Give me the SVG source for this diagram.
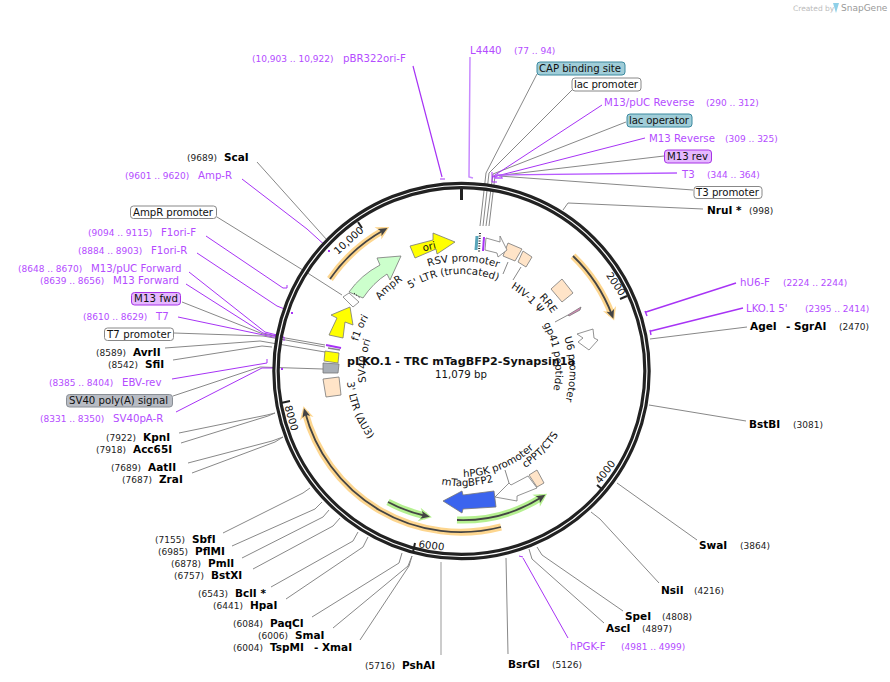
<svg xmlns="http://www.w3.org/2000/svg" width="890" height="682" viewBox="0 0 890 682">
<style>
text{font-family:"DejaVu Sans",Verdana,sans-serif;font-size:10.2px;fill:#111}
.c{font-size:9px;fill:#222}
.pc{font-size:9px;fill:#b44cff}
.p{font-size:10.2px;fill:#b44cff}
.b{font-size:10.5px;font-weight:bold;fill:#000}
.m{text-anchor:middle}
.l{fill:none;stroke:#888;stroke-width:1}
.pl{fill:none;stroke:#a733f5;stroke-width:1}
.g{fill:#fff;stroke:#777;stroke-width:.8}
.f{stroke:#777;stroke-width:.8}
.tan{fill:#ffe4c8;stroke:#777;stroke-width:.8}
.bw{fill:#fff;stroke:#888;stroke-width:1}
.bt{fill:#a0cdd8;stroke:#3c8aa0;stroke-width:1}
.bp{fill:#e5b8ff;stroke:#a733e6;stroke-width:1}
.bg{fill:#b8bcc4;stroke:#8a8f96;stroke-width:1}
.og{fill:none;stroke:#fdd68f;stroke-width:7}
.gg{fill:none;stroke:#b5f090;stroke-width:7}
.core{fill:none;stroke:#444;stroke-width:1.800}
</style>
<defs>
<marker id="ho" markerUnits="userSpaceOnUse" markerWidth="18" markerHeight="18" refX="9" refY="9" orient="auto"><path d="M2,2 L15,9 L2,16 L6,9 Z" fill="#fdd68f"/></marker>
<marker id="hg" markerUnits="userSpaceOnUse" markerWidth="18" markerHeight="18" refX="9" refY="9" orient="auto"><path d="M2,2 L15,9 L2,16 L6,9 Z" fill="#b5f090"/></marker>
<marker id="hc" markerUnits="userSpaceOnUse" markerWidth="14" markerHeight="14" refX="7" refY="7" orient="auto"><path d="M2,3 L11,7 L2,11 L4,7 Z" fill="#444"/></marker>
<path id="aRSV" d="M367.6,314.6 A109.5,109.5 0 0 1 557.3,317.9"/>
<path id="aLTR5" d="M373.6,330 A97,97 0 0 1 540.9,315.3"/>
<path id="aAmpR" d="M355.5,391.6 A108,108 0 0 1 496.7,268.9"/>
<path id="aF1" d="M375.6,435.7 A107.5,107.5 0 0 1 448.4,264.3"/>
<path id="aSV" d="M405.1,448.7 A96,96 0 0 1 422.4,283.3"/>
<path id="aHIV" d="M431.7,279.2 A96.5,96.5 0 0 1 555.9,391.1"/>
<path id="aRRE" d="M446.6,265.1 A107,107 0 0 1 560.7,411.1"/>
<path id="aGP" d="M495.2,283.2 A94,94 0 0 1 520.6,444"/>
<path id="aU6" d="M513.9,276.5 A108,108 0 0 1 517.1,463.6"/>
<path id="aLTR3" d="M372.1,298.7 A115,115 0 0 0 443.5,484.6"/>
<path id="aPGK" d="M396.2,454.5 A106,106 0 0 0 566.5,385.7"/>
<path id="aCP" d="M431.5,483.1 A116,116 0 0 0 573.6,341"/>
<path id="aBFP" d="M365,433.7 A115,115 0 0 0 564,423.2"/>
</defs>

<g id="watermark"><text x="793" y="11" style="font-size:7.5px;fill:#bbb">Created by</text><path d="M833,3 L839,3 L836,13 Z" fill="#8fd0e8"/><text x="841" y="11" style="font-size:9px;fill:#999">SnapGene</text></g>

<g id="connectors">
<path class="l" d="M537,74 L486,173 L480,226"/>
<path class="l" d="M572,90 L489,173 L483,226"/>
<path class="l" d="M626,122 L493,174 L486,226"/>
<path class="l" d="M664,156 L495,176 L489,226"/>
<path class="l" d="M693,190 L499,176"/>
<path class="l" d="M703,209 L568,203 L563,210"/>
<path class="l" d="M747,327 L650,339"/>
<path class="l" d="M746,421 L649,405"/>
<path class="l" d="M697,540 L617,483"/>
<path class="l" d="M659,583 L600,519 L591,512"/>
<path class="l" d="M623,611 L542,555 L537,547"/>
<path class="l" d="M604,623 L532,559 L529,549"/>
<path class="l" d="M508,654 L506,558"/>
<path class="l" d="M441,655 L441,562" style="stroke:#bbb;stroke-width:1.5"/>
<path class="l" d="M360,640 L409,566 L412,556"/>
<path class="l" d="M333,628 L408,566 L412,556"/>
<path class="l" d="M312,617 L399,563 L402,553"/>
<path class="l" d="M286,599 L363,547 L368,537"/>
<path class="l" d="M271,587 L353,541 L358,532"/>
<path class="l" d="M253,569 L333,526 L340,518"/>
<path class="l" d="M242,558 L323,517 L329,510"/>
<path class="l" d="M232,546 L315,509 L322,502"/>
<path class="l" d="M223,533 L303,493 L310,488"/>
<path class="l" d="M192,473 L275,442 L283,437"/>
<path class="l" d="M188,463 L272,441 L283,437"/>
<path class="l" d="M181,443 L268,416 L275,413"/>
<path class="l" d="M179,433 L267,415 L275,413"/>
<path class="l" d="M173,396 L260,367 L323,369"/>
<path class="l" d="M173,360 L262,346 L272,347"/>
<path class="l" d="M165,348 L260,341 L325,352"/>
<path class="l" d="M174,333 L263,336 L325,347"/>
<path class="l" d="M182,302 L263,334 L325,345"/>
<path class="l" d="M217,217 L306,272 L342,295"/>
<path class="l" d="M257,162 L327,240"/>
<path class="l" d="M508,262 L503,274"/>
<path class="l" d="M521,267 L513,280"/>
<path class="l" d="M555,322 L568,315"/>
<path class="l" d="M505,470 L509,483"/>
<path class="pl" d="M413,66 L442,177 M440,179 L445,179" style="stroke-width:1.2"/>
<path class="pl" d="M470,57 L469,177 L473,178" style="stroke:#c88aff;stroke-width:1.5"/>
<path class="pl" d="M602,105 L492,177"/>
<path class="pl" d="M645,138 L493,177"/>
<path class="pl" d="M677,173 L497,175 L495,178 L502,178 L501,175" style="stroke-width:1.4;stroke:#b85cff"/>
<path class="pl" d="M492,172 L492,182 L497,182"/>
<path class="pl" d="M736,283 L646,312 M645,311 L647,316" style="stroke-width:1.4"/>
<path class="pl" d="M743,308 L651,331 M650,330 L651,335" style="stroke-width:1.4"/>
<path class="pl" d="M568,638 L523,558 M519,556 L523,557"/>
<path class="pl" d="M242,179 L307,229 L328,248"/>
<path class="pl" d="M206,236 L283,288 L287,288 L287,285"/>
<path class="pl" d="M197,253 L277,306 L287,310"/>
<path class="pl" d="M189,272 L265,332 L277,335"/>
<path class="pl" d="M186,284 L263,333 L277,336"/>
<path class="pl" d="M178,317 L273,337 L284,337 L284,341"/>
<path class="pl" d="M172,379 L267,363 L267,359"/>
<path class="pl" d="M176,412 L262,368 L273,368"/>
<path d="M281,369h2M291,313h2M328,251h2" stroke="#a733f5" stroke-width="2"/>
</g>

<g id="backbone">
<circle cx="461.500" cy="371" r="185.500" fill="none" stroke="#222" stroke-width="7.500"/>
<circle cx="461.500" cy="371" r="185.500" fill="none" stroke="#fff" stroke-width="1.200"/>
<path d="M461.500,187 V200" stroke="#222" stroke-width="3"/>
<path d="M358,222 L362,228" stroke="#222" stroke-width="2"/>
<path d="M627,296 L620,299" stroke="#222" stroke-width="2"/>
<path d="M603,490 L597,485" stroke="#222" stroke-width="2"/>
<path d="M415,543 L413,552" stroke="#222" stroke-width="2"/>
<path d="M281,403 L290,401" stroke="#222" stroke-width="2"/>
<text class="m" transform="translate(351,243) rotate(-42)">10,000</text>
<text class="m" transform="translate(613,286) rotate(56)">2000</text>
<text class="m" transform="translate(608,474) rotate(-53)">4000</text>
<text class="m" transform="translate(431,549) rotate(7)">6000</text>
<text class="m" transform="translate(288,419) rotate(74)">8000</text>
</g>

<g id="feature-arcs">
<path class="og" d="M330,279 A161,161 0 0 1 384,230" marker-end="url(#ho)"/><path class="core" d="M330,279 A161,161 0 0 1 384,230" marker-end="url(#hc)"/>
<path class="og" d="M573,256 A162,162 0 0 1 612,315" marker-end="url(#ho)"/><path class="core" d="M573,256 A162,162 0 0 1 612,315" marker-end="url(#hc)"/>
<path class="og" d="M501,527 A161,161 0 0 1 305,412" marker-end="url(#ho)"/><path class="core" d="M501,527 A161,161 0 0 1 305,412" marker-end="url(#hc)"/>
<path class="gg" d="M388,502 A148,148 0 0 0 426,516" marker-end="url(#hg)"/><path class="core" d="M388,502 A148,148 0 0 0 426,516" marker-end="url(#hc)"/>
<path class="gg" d="M457,520 A148,148 0 0 0 542,497" marker-end="url(#hg)"/><path class="core" d="M457,520 A148,148 0 0 0 542,497" marker-end="url(#hc)"/>
</g>

<g id="feature-ori"><path d="M410,246 L433,240 L433,233 L455,242 L437,254 L436,249 L415,258 Z" fill="#ff0" class="f"/><text class="m" transform="translate(430,250) rotate(-14)">ori</text></g>
<g id="feature-AmpR"><path d="M349,292 Q361,275 380,265 L377,258 L401,256 L390,280 L387,274 Q373,283 363,298 Z" fill="#ccffcc" class="f"/><path d="M354,293 L360,298" stroke="#000" stroke-dasharray="1 2"/><text class="m"><textPath href="#aAmpR" startOffset="50%">AmpR</textPath></text></g>
<g id="feature-AmpRpromoter"><path d="M343,297 L349,293 L359,302 L353,307 Z" class="g"/></g>
<g id="feature-f1ori"><path d="M350,307 L353,325 L345,322 L343,338 L329,335 L337,318 L331,315 Z" fill="#ff0" class="f"/><text class="m"><textPath href="#aF1" startOffset="50%">f1 ori</textPath></text></g>
<g id="feature-SV40ori"><path d="M326,345 L341,348" stroke="#a733f5" stroke-width="2"/><path d="M325,351 L339,353 L338,363 L324,361 Z" fill="#ff0" class="f"/><path d="M328,348 L340,350" stroke="#888" stroke-width="1.500"/><text class="m"><textPath href="#aSV" startOffset="50%">SV40 ori</textPath></text></g>
<g id="feature-SV40polyA"><path d="M323,363 L339,364 L338,373 L323,373 Z" fill="#a8aeb6" class="f"/></g>
<g id="feature-3LTR"><path d="M323,379 L339,377 L341,395 L326,397 Z" class="tan"/><text class="m"><textPath href="#aLTR3" startOffset="50%">3' LTR (ΔU3)</textPath></text></g>
<g id="feature-5LTR"><path d="M508,243 L522,249 L515,261 L503,256 Z" class="tan"/><text class="m"><textPath href="#aLTR5" startOffset="50%">5' LTR (truncated)</textPath></text></g>
<g id="feature-RSV"><path d="M486,238 L500,242 L500,236 L507,250 L498,257 L497,253 L485,250 Z" class="g"/><path d="M477,236 L476,250" stroke="#5aa6ba" stroke-width="3"/><path d="M480,233 L479,252" stroke="#333" stroke-dasharray="1 1.500" stroke-width="2"/><path d="M484,237 L483,251" stroke="#a733f5" stroke-width="2"/><text class="m"><textPath href="#aRSV" startOffset="50%">RSV promoter</textPath></text></g>
<g id="feature-psi"><path d="M523,251 L532,257 L526,267 L518,262 Z" class="tan"/><text class="m"><textPath href="#aHIV" startOffset="50%">HIV-1 Ψ</textPath></text></g>
<g id="feature-RRE"><path d="M562,279 L573,293 L562,302 L551,289 Z" class="tan"/><text class="m"><textPath href="#aRRE" startOffset="50%">RRE</textPath></text></g>
<g id="feature-gp41"><path d="M568,315 L581,307 L580,310 L569,316 Z" fill="#d88ab8" class="f"/><text class="m"><textPath href="#aGP" startOffset="50%">gp41 peptide</textPath></text></g>
<g id="feature-U6"><path d="M577,334 L593,329 L594,338 L598,340 L589,350 L578,342 L583,338 Z" class="g"/><text class="m"><textPath href="#aU6" startOffset="50%">U6 promoter</textPath></text></g>
<g id="feature-hPGK"><path d="M495,497 L509,483 L511,485 L528,476 L537,488 L517,496 L517,501 Z" class="g"/><text class="m"><textPath href="#aPGK" startOffset="50%">hPGK promoter</textPath></text></g>
<g id="feature-cPPT"><path d="M529,475 L537,470 L544,483 L537,487 Z" class="tan"/><text class="m"><textPath href="#aCP" startOffset="50%">cPPT/CTS</textPath></text></g>
<g id="feature-mTagBFP2"><path d="M443,501 L462,491 L463,495 L494,491 L496,507 L463,509 L462,513 Z" fill="#3b64ee" class="f"/><text class="m"><textPath href="#aBFP" startOffset="50%">mTagBFP2</textPath></text></g>

<g id="title"><text class="m" x="461" y="365" style="font-size:11.2px;font-weight:bold">pLKO.1 - TRC mTagBFP2-Synapsin1a</text><text class="m" x="461" y="378" style="font-size:10.2px">11,079 bp</text></g>

<g id="CAP"><rect class="bt" x="537" y="62" width="88" height="13" rx="3"/><text x="539" y="72" textLength="82">CAP binding site</text></g>
<g id="lacP"><rect class="bw" x="572" y="78" width="69" height="13" rx="3"/><text x="574" y="88" textLength="64">lac promoter</text></g>
<g id="lacO"><rect class="bt" x="627" y="114" width="65" height="13" rx="3"/><text x="629" y="124" textLength="60">lac operator</text></g>
<g id="M13rev"><rect class="bp" x="664.500" y="150" width="47" height="13" rx="3"/><text x="667" y="160" textLength="41">M13 rev</text></g>
<g id="T3p"><rect class="bw" x="694" y="186.500" width="68" height="12" rx="3"/><text x="696" y="196" textLength="63">T3 promoter</text></g>
<g id="AmpRp"><rect class="bw" x="130.500" y="206" width="86" height="12.500" rx="3"/><text x="133" y="216" textLength="80">AmpR promoter</text></g>
<g id="M13fwd"><rect class="bp" x="131.500" y="292.500" width="49" height="12.500" rx="3"/><text x="134" y="302" textLength="44">M13 fwd</text></g>
<g id="T7p"><rect class="bw" x="104.500" y="328" width="69" height="12.500" rx="3"/><text x="107" y="338" textLength="64">T7 promoter</text></g>
<g id="SV40pA"><rect class="bg" x="66.500" y="394.500" width="106" height="12.500" rx="3"/><text x="69" y="404" textLength="99">SV40 poly(A) signal</text></g>

<g id="sites">
<text class="c" x="187" y="161">(9689)</text><text class="b" x="224" y="161">ScaI</text>
<text class="b" x="707" y="214">NruI *</text><text class="c" x="749" y="214">(998)</text>
<text class="b" x="750" y="330">AgeI</text><text class="b" x="786" y="330">- SgrAI</text><text class="c" x="839" y="330">(2470)</text>
<text class="b" x="749" y="428">BstBI</text><text class="c" x="793" y="428">(3081)</text>
<text class="b" x="699" y="549">SwaI</text><text class="c" x="740" y="549">(3864)</text>
<text class="b" x="661" y="594">NsiI</text><text class="c" x="694" y="594">(4216)</text>
<text class="b" x="625" y="620">SpeI</text><text class="c" x="662" y="620">(4808)</text>
<text class="b" x="606" y="632">AscI</text><text class="c" x="642" y="632">(4897)</text>
<text class="b" x="508" y="668">BsrGI</text><text class="c" x="552" y="668">(5126)</text>
<text class="c" x="365" y="669">(5716)</text><text class="b" x="402" y="669">PshAI</text>
<text class="c" x="233" y="651">(6004)</text><text class="b" x="270" y="651">TspMI</text><text class="b" x="314" y="651">- XmaI</text>
<text class="c" x="258" y="639">(6006)</text><text class="b" x="295" y="639">SmaI</text>
<text class="c" x="233" y="627">(6084)</text><text class="b" x="270" y="627">PaqCI</text>
<text class="c" x="213" y="609">(6441)</text><text class="b" x="250" y="609">HpaI</text>
<text class="c" x="198" y="597">(6543)</text><text class="b" x="235" y="597">BclI *</text>
<text class="c" x="174" y="579">(6757)</text><text class="b" x="211" y="579">BstXI</text>
<text class="c" x="171" y="567">(6878)</text><text class="b" x="208" y="567">PmlI</text>
<text class="c" x="158" y="555">(6985)</text><text class="b" x="195" y="555">PflMI</text>
<text class="c" x="155" y="543">(7155)</text><text class="b" x="192" y="543">SbfI</text>
<text class="c" x="122" y="483">(7687)</text><text class="b" x="159" y="483">ZraI</text>
<text class="c" x="111" y="471">(7689)</text><text class="b" x="148" y="471">AatII</text>
<text class="c" x="96" y="453">(7918)</text><text class="b" x="133" y="453">Acc65I</text>
<text class="c" x="106" y="441">(7922)</text><text class="b" x="143" y="441">KpnI</text>
<text class="c" x="108" y="368">(8542)</text><text class="b" x="145" y="368">SfiI</text>
<text class="c" x="96" y="356">(8589)</text><text class="b" x="133" y="356">AvrII</text>
</g>
<g id="primers">
<text class="pc" x="252" y="62">(10,903 .. 10,922)</text><text class="p" x="343" y="62">pBR322ori-F</text>
<text class="p" x="470" y="54">L4440</text><text class="pc" x="514" y="54">(77 .. 94)</text>
<text class="p" x="604" y="106">M13/pUC Reverse</text><text class="pc" x="706" y="106">(290 .. 312)</text>
<text class="p" x="649" y="142">M13 Reverse</text><text class="pc" x="725" y="142">(309 .. 325)</text>
<text class="p" x="682" y="178">T3</text><text class="pc" x="707" y="178">(344 .. 364)</text>
<text class="p" x="740" y="286">hU6-F</text><text class="pc" x="783" y="286">(2224 .. 2244)</text>
<text class="p" x="746" y="312">LKO.1 5'</text><text class="pc" x="805" y="312">(2395 .. 2414)</text>
<text class="p" x="570" y="650">hPGK-F</text><text class="pc" x="621" y="650">(4981 .. 4999)</text>
<text class="pc" x="40" y="422">(8331 .. 8350)</text><text class="p" x="113" y="422">SV40pA-R</text>
<text class="pc" x="49" y="386">(8385 .. 8404)</text><text class="p" x="122" y="386">EBV-rev</text>
<text class="pc" x="83" y="320">(8610 .. 8629)</text><text class="p" x="156" y="320">T7</text>
<text class="pc" x="40" y="284">(8639 .. 8656)</text><text class="p" x="113" y="284">M13 Forward</text>
<text class="pc" x="18" y="272">(8648 .. 8670)</text><text class="p" x="91" y="272">M13/pUC Forward</text>
<text class="pc" x="78" y="254">(8884 .. 8903)</text><text class="p" x="151" y="254">F1ori-R</text>
<text class="pc" x="88" y="236">(9094 .. 9115)</text><text class="p" x="161" y="236">F1ori-F</text>
<text class="pc" x="125" y="179">(9601 .. 9620)</text><text class="p" x="198" y="179">Amp-R</text>
</g>
</svg>
